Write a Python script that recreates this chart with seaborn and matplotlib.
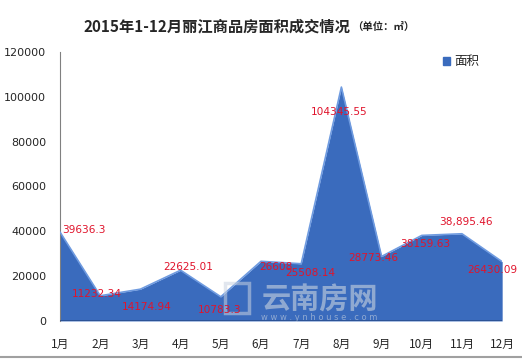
import matplotlib
matplotlib.use("Agg")
import matplotlib.pyplot as plt
import matplotlib.lines as mlines
import matplotlib.patches as mpatches
import pandas as pd
import seaborn as sns

# data
months = ["1月", "2月", "3月", "4月", "5月", "6月", "7月", "8月", "9月", "10月", "11月", "12月"]
area = [39636.3, 11232.34, 14174.94, 22625.01, 10783.3, 26608, 25508.14,
        104345.55, 28773.46, 38159.63, 38895.46, 26430.09]
value_labels = ["39636.3", "11232.34", "14174.94", "22625.01", "10783.3", "26608",
                "25508.14", "104345.55", "28773.46", "38159.63", "38,895.46", "26430.09"]

df = pd.DataFrame({"idx": range(len(months)), "month": months, "area": area})

sns.set_style("white")
plt.rcParams["font.family"] = ["Noto Sans CJK SC", "DejaVu Sans"]

fig = plt.figure(figsize=(5.22, 3.61), dpi=100)
ax = fig.add_axes([0.115, 0.111, 0.847, 0.745])

fill_color = "#3a6bbd"
ax.fill_between(df["idx"], df["area"], 0, color=fill_color, lw=0, zorder=2)
sns.lineplot(data=df, x="idx", y="area", color="#6f9be0", lw=1.2, ax=ax, zorder=3)

# red value labels, placed roughly as in the reference (x in category units, y in data units)
label_pos = [(0.05, 40600, "left"), (0.92, 12000, "center"), (2.16, 6300, "center"),
             (3.18, 24100, "center"), (3.98, 4900, "center"), (4.95, 24100, "left"),
             (6.22, 21400, "center"), (6.94, 93200, "center"), (7.79, 28100, "center"),
             (9.08, 34300, "center"), (10.1, 44200, "center"), (10.75, 22750, "center")]
for lab, (x, y, ha) in zip(value_labels, label_pos):
    ax.text(x, y, lab, color="#e0142c", fontsize=7.6, ha=ha, va="center",
            family="DejaVu Sans", zorder=5)

ax.set_xlim(0, 11)
ax.set_ylim(0, 120000)
ax.set_yticks(range(0, 120001, 20000))
ax.set_yticklabels([str(v) for v in range(0, 120001, 20000)], fontsize=8, family="DejaVu Sans")
ax.set_xticks(df["idx"])
ax.set_xticklabels(months, fontsize=8.5)
ax.tick_params(axis="both", length=0)
ax.tick_params(axis="x", pad=12)
ax.tick_params(axis="y", pad=10)
ax.set_xlabel("")
ax.set_ylabel("")
for side in ["top", "right", "bottom"]:
    ax.spines[side].set_visible(False)
ax.spines["left"].set_color("#808080")
ax.spines["left"].set_linewidth(0.8)
ax.axhline(0, color="#2a4f8f", lw=1.2, zorder=4)

# watermark
ax.add_patch(mpatches.Rectangle((0.372, 0.03), 0.055, 0.11, transform=ax.transAxes,
                                fill=False, ec="#c9d3e0", lw=2.5, alpha=0.55, zorder=4))
ax.text(0.455, 0.08, "云南房网", transform=ax.transAxes, fontsize=21, fontweight="bold",
        color="#c9d3e0", alpha=0.6, ha="left", va="center", zorder=4)
ax.text(0.455, 0.012, "w w w . y n h o u s e . c o m", transform=ax.transAxes, fontsize=6,
        color="#c9d3e0", alpha=0.6, ha="left", va="center", family="DejaVu Sans", zorder=4)

# legend
handle = mpatches.Patch(color=fill_color, label="面积")
ax.legend(handles=[handle], loc="upper left", bbox_to_anchor=(0.84, 1.03), frameon=False,
          fontsize=9, handlelength=0.6, handleheight=0.6, handletextpad=0.3)

# title
fig.text(0.16, 0.928, "2015年1-12月丽江商品房面积成交情况", fontsize=11, fontweight="bold",
         ha="left", va="center")
fig.text(0.675, 0.925, "（单位：㎡）", fontsize=7.5, fontweight="bold", ha="left", va="center")

# bottom border line
fig.add_artist(mlines.Line2D([0, 1], [0.012, 0.012], color="#a0a0a0", lw=1.5))

fig.savefig("out.png", dpi=100)
